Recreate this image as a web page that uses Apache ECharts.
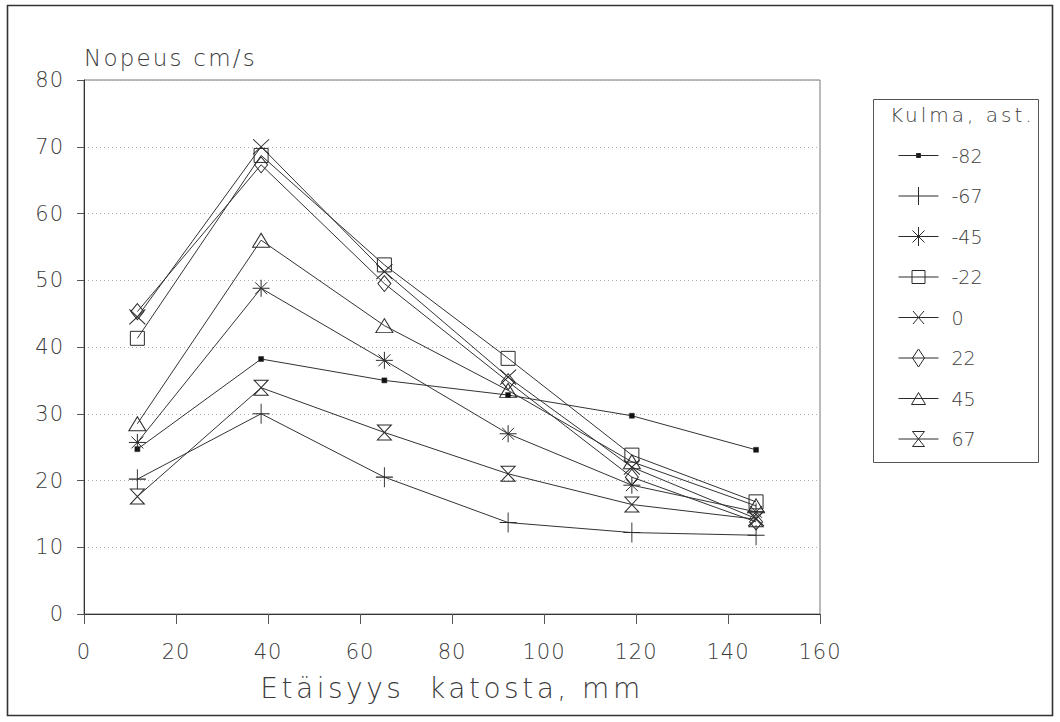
<!DOCTYPE html>
<html>
<head>
<meta charset="utf-8">
<script src="https://cdn.jsdelivr.net/npm/echarts@6/dist/echarts.min.js"></script>
<style>
  html, body { margin: 0; padding: 0; background: #fff; }
  #chart { width: 1060px; height: 722px; }
  /* wide, airy lettering of the plotter fonts */
  #chart text { white-space: pre; }
  #chart text[style*="28px"] { letter-spacing: 3.5px; }
  #chart text[style*="23px"] { letter-spacing: 2.2px; }
  #chart text[style*="21px"] { letter-spacing: 1px; }
  #chart text[style*="20px"] { letter-spacing: 3px; }
</style>
</head>
<body>
<div id="chart"></div>
<script>
// Etäisyys katosta (mm)
const distances = [11.6, 38.5, 65.3, 92.2, 119.1, 146.1];

// Nopeus (cm/s) kullekin kulmalle
const angleNames = ['-82', '-67', '-45', '-22', '0', '22', '45', '67'];
const v_m82 = [24.7, 38.2, 35.0, 32.8, 29.7, 24.6];
const v_m67 = [20.2, 30.0, 20.5, 13.7, 12.2, 11.8];
const v_m45 = [25.7, 48.8, 38.0, 27.0, 19.3, 15.3];
const v_m22 = [41.3, 68.7, 52.3, 38.3, 23.8, 16.8];
const v_0   = [44.5, 70.0, 51.3, 35.5, 22.0, 14.3];
const v_22  = [45.3, 67.3, 49.5, 34.8, 20.5, 13.8];
const v_45  = [28.5, 56.0, 43.2, 33.5, 22.8, 16.2];
const v_67  = [17.6, 33.9, 27.2, 21.0, 16.4, 14.2];
const seriesValues = [v_m82, v_m67, v_m45, v_m22, v_0, v_22, v_45, v_67];

// Pistemerkit kuvaajassa ja selitteessä
const markers = [
  { symbol: 'rect', size: [5, 5], fill: '#111',
    icon: 'M18,8 L22,8 L22,12 L18,12 Z' },
  { symbol: 'path://M5,0 L5,10 M0,5 L10,5', size: [17, 20], fill: null,
    icon: 'M20,1 L20,19' },
  { symbol: 'path://M5,0 L5,10 M0,5 L10,5 M1.5,1.5 L8.5,8.5 M8.5,1.5 L1.5,8.5', size: [17, 17], fill: null,
    icon: 'M20,0.5 L20,19.5 M14,4 L26,16 M26,4 L14,16' },
  { symbol: 'rect', size: [14, 14], fill: null,
    icon: 'M13.5,3.5 L26.5,3.5 L26.5,16.5 L13.5,16.5 Z' },
  { symbol: 'path://M0,0 L10,10 M10,0 L0,10', size: [16, 15], fill: null,
    icon: 'M14.5,3.5 L25.5,16.5 M25.5,3.5 L14.5,16.5' },
  { symbol: 'diamond', size: [13, 16], fill: null,
    icon: 'M20,1 L26,10 L20,19 L14,10 Z' },
  { symbol: 'triangle', size: [17, 14], fill: null,
    icon: 'M20,4 L27,16 L13,16 Z' },
  { symbol: 'path://M0,0 L10,0 L0,10 L10,10 Z', size: [14, 15], fill: null,
    icon: 'M14,2.5 L26,2.5 L14,17.5 L26,17.5 Z' }
];

const font = '"DejaVu Sans", "Liberation Sans", sans-serif';
const weight = 200;
const inkColor = '#2a2a2a';
const textColor = '#3c3c3c';
const clear = 'rgba(0,0,0,0)';

const series = angleNames.map((name, i) => ({
  name: name,
  type: 'line',
  data: distances.map((d, j) => [d, seriesValues[i][j]]),
  symbol: markers[i].symbol,
  symbolSize: markers[i].size,
  showAllSymbol: true,
  lineStyle: { color: '#333', width: 1 },
  itemStyle: {
    color: markers[i].fill || clear,
    borderColor: inkColor,
    borderWidth: markers[i].fill ? 0.5 : 1
  },
  emphasis: { disabled: true },
  animation: false,
  z: 3
}));

// Selitteen kuvake: vaakaviiva + merkki, ääripisteet pitävät kehyksen 40x20
const legendData = angleNames.map((name, i) => ({
  name: name,
  icon: 'path://M0,10 L40,10 M20,0 L20,0 M20,20 L20,20 ' + markers[i].icon,
  itemStyle: {
    color: markers[i].fill || clear,
    borderColor: inkColor,
    borderWidth: 1
  }
}));

const chart = echarts.init(document.getElementById('chart'), null, { renderer: 'svg' });
chart.setOption({
  backgroundColor: '#fff',
  animation: false,
  textStyle: { fontFamily: font, fontWeight: weight },
  grid: { left: 84, right: 240, top: 80, bottom: 108, show: true, borderColor: '#777', borderWidth: 1 },
  xAxis: {
    type: 'value', min: 0, max: 160, interval: 20,
    axisLine: { show: true, onZero: false, lineStyle: { color: '#333', width: 1 } },
    axisTick: { show: true, length: 10, lineStyle: { color: '#555' } },
    splitLine: { show: false },
    axisLabel: { color: textColor, fontSize: 21, margin: 27, fontFamily: font, fontWeight: weight },
    name: 'Etäisyys  katosta, mm',
    nameLocation: 'middle',
    nameGap: 60,
    nameTextStyle: { color: textColor, fontSize: 28, fontFamily: font, fontWeight: weight }
  },
  yAxis: {
    type: 'value', min: 0, max: 80, interval: 10,
    axisLine: { show: true, onZero: false, lineStyle: { color: '#333', width: 1 } },
    axisTick: { show: true, length: 7, lineStyle: { color: '#555' } },
    splitLine: { show: true, lineStyle: { color: '#aaa', type: [1, 3], width: 1 } },
    axisLabel: { color: textColor, fontSize: 21, margin: 20, fontFamily: font, fontWeight: weight },
    name: 'Nopeus cm/s',
    nameLocation: 'end',
    nameGap: 11,
    nameTextStyle: { color: textColor, fontSize: 23, align: 'left', fontFamily: font, fontWeight: weight }
  },
  legend: {
    orient: 'vertical',
    left: 893, top: 140,
    itemWidth: 40, itemHeight: 20,
    itemGap: 19.5,
    symbolKeepAspect: true,
    itemStyle: { borderWidth: 1 },
    textStyle: { color: textColor, fontSize: 19, lineHeight: 20, fontFamily: font, fontWeight: weight, padding: [0, 0, 0, 8] },
    data: legendData
  },
  graphic: [
    { type: 'rect', shape: { x: 7.5, y: 5.5, width: 1045, height: 710 }, style: { fill: 'none', stroke: '#333', lineWidth: 1.6 }, silent: true },
    { type: 'rect', shape: { x: 873.5, y: 99.5, width: 165, height: 363 }, style: { fill: 'none', stroke: '#555', lineWidth: 1 }, silent: true },
    { type: 'text', left: 890, top: 105, style: { text: 'Kulma, ast.', fill: textColor, fontSize: 20, fontFamily: font, fontWeight: weight }, silent: true }
  ],
  series: series
});
</script>
</body>
</html>
